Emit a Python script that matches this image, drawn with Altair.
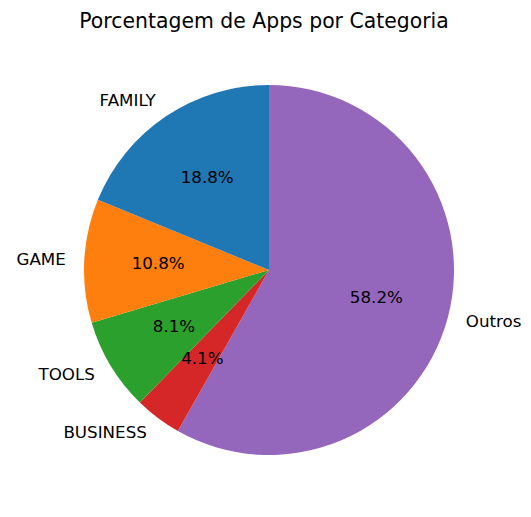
import altair as alt
import pandas as pd

categories = ["Outros", "BUSINESS", "TOOLS", "GAME", "FAMILY"]
percents = [58.2, 4.1, 8.1, 10.8, 18.8]
colors = ["#9467bd", "#d62728", "#2ca02c", "#ff7f0e", "#1f77b4"]
sides = ["right", "left", "left", "left", "left"]

df = pd.DataFrame({
    "cat": categories,
    "value": percents,
    "ord": list(range(len(categories))),
    "side": sides,
    "pct": [f"{v:.1f}%" for v in percents],
})

CX, CY, R = 261, 262, 185
FONT = "DejaVu Sans"
FS = 16.7

base = alt.Chart(df).encode(
    theta=alt.Theta("value:Q", stack=True),
    order=alt.Order("ord:Q"),
    x=alt.value(CX),
    y=alt.value(CY),
)

arcs = base.mark_arc(outerRadius=R, stroke=None).encode(
    color=alt.Color("cat:N", scale=alt.Scale(domain=categories, range=colors), legend=None)
)

pct = base.mark_text(radius=R * 0.6, font=FONT, fontSize=FS, color="black",
                     align="center", baseline="middle").encode(text="pct:N")

lab_left = base.mark_text(radius=R * 1.1, font=FONT, fontSize=FS, color="black",
                          align="right", baseline="middle").encode(
    text=alt.condition("datum.side == 'left'", "cat:N", alt.value(""))
)
lab_right = base.mark_text(radius=R * 1.1, font=FONT, fontSize=FS, color="black",
                           align="left", baseline="middle").encode(
    text=alt.condition("datum.side == 'right'", "cat:N", alt.value(""))
)

title_df = pd.DataFrame({"t": ["Porcentagem de Apps por Categoria"]})
title = alt.Chart(title_df).mark_text(font=FONT, fontSize=20.4, color="black",
                                      align="center", baseline="middle").encode(
    text="t:N", x=alt.value(256), y=alt.value(14)
)

chart = alt.layer(arcs, pct, lab_left, lab_right, title).properties(
    width=515, height=501,
    autosize=alt.AutoSizeParams(type="none"),
    padding=0,
    background="white",
).configure_view(stroke=None)

chart.save("out.html", embed_options={"renderer": "svg", "actions": False})
